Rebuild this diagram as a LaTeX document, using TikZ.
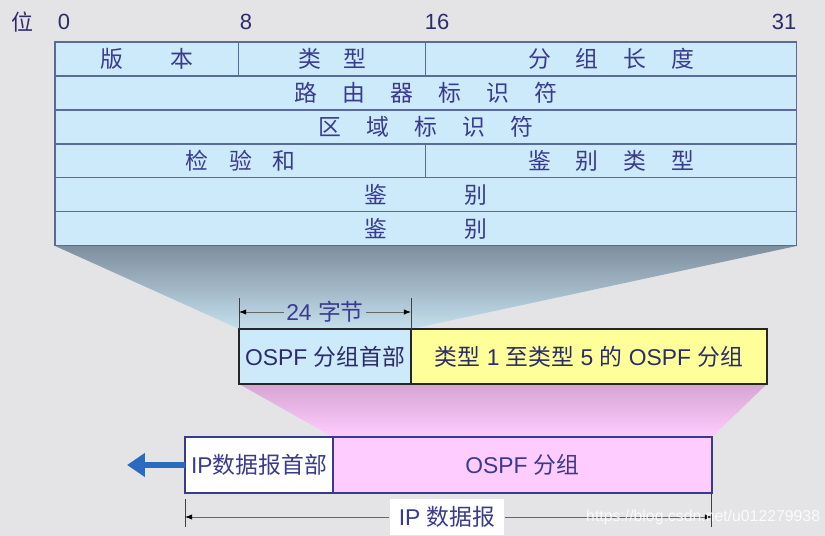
\documentclass[tikz,border=0pt]{standalone}
\usepackage{fontspec}
\setmainfont{Liberation Sans}
\newfontfamily\cjk{Noto Sans CJK SC}
\usepackage{tikz}
\usetikzlibrary{arrows.meta,positioning,calc,backgrounds}
\definecolor{ospfBg}{HTML}{E4E4E6}
\definecolor{ospfCell}{HTML}{CCEAFA}
\definecolor{ospfLine}{HTML}{5A6A9C}
\definecolor{ospfInk}{HTML}{3A3A8E}
\definecolor{ospfYellow}{HTML}{FFFF99}
\definecolor{ospfPink}{HTML}{FFCCFF}
\definecolor{ospfMauve}{HTML}{D6A6D2}
\definecolor{ospfSlate}{HTML}{7E8E9E}
\definecolor{ospfArrow}{HTML}{2A6BC0}
\newcommand{\gp}[1][1.1]{\hspace{#1em}}

\begin{document}
\begin{tikzpicture}[x=0.02cm,y=-0.02cm,
   cell/.style={draw=ospfLine,fill=ospfCell,text=ospfInk,line width=0.6pt,
                minimum height=0.68cm,inner sep=0pt,outer sep=0pt,
                font=\cjk\fontsize{13}{15}\selectfont},
   bitnum/.style={text=ospfInk!75!black,font=\fontsize{12.5}{15}\selectfont},
   pkt/.style={draw=black!85,line width=1.1pt,minimum height=1.1cm,inner sep=0pt,
               outer sep=0pt,text=ospfInk!75!black,font=\fontsize{13}{15}\selectfont},
   ippkt/.style={draw=ospfInk,line width=0.8pt,minimum height=1.12cm,inner sep=0pt,
                 outer sep=0pt,text=ospfInk,font=\fontsize{13}{15}\selectfont},
   dimlbl/.style={inner sep=1pt,text=ospfInk,font=\fontsize{13}{15}\selectfont},
   tick/.style={draw=black!75,line width=0.5pt},
   dimarr/.style={draw=black!60,line width=0.5pt,-{Latex[length=4pt,width=3pt,black]}},
   outarrow/.style={draw=ospfArrow,line width=3.5pt,-{Triangle[length=0.36cm,width=0.46cm]}}]
  \useasboundingbox (0,0) rectangle (825,536);

  % bit positions
  \node[bitnum,font=\cjk\fontsize{12.5}{15}\selectfont] (pos) at (22,22) {位};
  \node[bitnum] (b0) at (64,22) {0};
  \node[bitnum] (b8) at (246,22) {8};
  \node[bitnum] (b16) at (437,22) {16};
  \node[bitnum] (b31) at (784,22) {31};

  % header fields
  \node[cell,minimum width=3.68cm,anchor=north west] (ver) at (55,42) {版\gp[2.1]本};
  \node[cell,minimum width=3.74cm,right=0pt of ver] (typ) {类\gp[1]型};
  \node[cell,minimum width=7.42cm,right=0pt of typ] (len) {分\gp 组\gp 长\gp 度};
  \node[cell,minimum width=14.84cm,below=0pt of ver.south west,anchor=north west] (rid)
    {路\gp 由\gp 器\gp 标\gp 识\gp 符};
  \node[cell,minimum width=14.84cm,below=0pt of rid] (aid) {区\gp 域\gp 标\gp 识\gp 符};
  \node[cell,minimum width=7.42cm,below=0pt of aid.south west,anchor=north west] (chk)
    {检\gp[0.9]验\gp[0.9]和};
  \node[cell,minimum width=7.42cm,right=0pt of chk] (aut) {鉴\gp 别\gp 类\gp 型};
  \node[cell,minimum width=14.84cm,below=0pt of chk.south west,anchor=north west] (au1)
    {鉴\gp[3.4]别};
  \node[cell,minimum width=14.84cm,below=0pt of au1] (au2) {鉴\gp[3.4]别};

  % OSPF packet
  \node[pkt,fill=ospfCell,minimum width=3.44cm,anchor=north west] (hdr) at (239,329)
    {OSPF {\cjk 分组首部}};
  \node[pkt,fill=ospfYellow,minimum width=7.12cm,right=0pt of hdr] (body)
    {{\cjk 类型} 1 {\cjk 至类型} 5 {\cjk 的} OSPF {\cjk 分组}};

  % IP datagram
  \node[ippkt,fill=white,minimum width=2.96cm,anchor=north west] (iph) at (185,437)
    {IP{\cjk 数据报首部}};
  \node[ippkt,fill=ospfPink,minimum width=7.58cm,right=0pt of iph] (osp) {OSPF {\cjk 分组}};

  \coordinate (exit) at (127,463);
  \draw[outarrow] (iph.west) -- (iph.west -| exit);

  % 24 bytes
  \node[dimlbl] (w24) at (325,312) {24 {\cjk 字节}};
  \coordinate (t1) at ($(hdr.north west)+(0,-31)$);
  \coordinate (t2) at ($(hdr.north east)+(0,-31)$);
  \draw[tick] (hdr.north west) -- (t1);
  \draw[tick] (hdr.north east) -- (t2);
  \draw[dimarr] (w24.west) -- (w24.west -| t1);
  \draw[dimarr] (w24.east) -- (w24.east -| t2);

  % IP datagram length
  \node[dimlbl,fill=white,minimum width=2.3cm,minimum height=0.72cm] (ipd) at (447,517)
    {IP {\cjk 数据报}};
  \coordinate (u1) at ($(iph.south west)+(0,6)$);
  \coordinate (v1) at ($(iph.south west)+(0,34)$);
  \coordinate (v2) at ($(osp.south east)+(0,34)$);
  \draw[tick] (u1) -- (v1);
  \draw[tick] (osp.south east) -- (v2);
  \draw[dimarr] (ipd.west) -- (ipd.west -| v1);
  \draw[dimarr] (ipd.east) -- (ipd.east -| v2);

  \node[text=white,opacity=0.85,font=\fontsize{9}{10}\selectfont,anchor=west] (wm)
    at (580,517) {https://blog.csdn.net/u012279938};

  \begin{scope}[on background layer]
    \fill[ospfBg] (0,0) rectangle (825,536);
    \shade[top color=ospfSlate,bottom color=ospfCell!90!gray]
      (au2.south west) -- (au2.south east) -- (hdr.north east) -- (hdr.north west) -- cycle;
    \shade[top color=ospfMauve,bottom color=ospfPink]
      (hdr.south west) -- (body.south east) -- (osp.north east) -- (osp.north west) -- cycle;
  \end{scope}
\end{tikzpicture}
\end{document}
